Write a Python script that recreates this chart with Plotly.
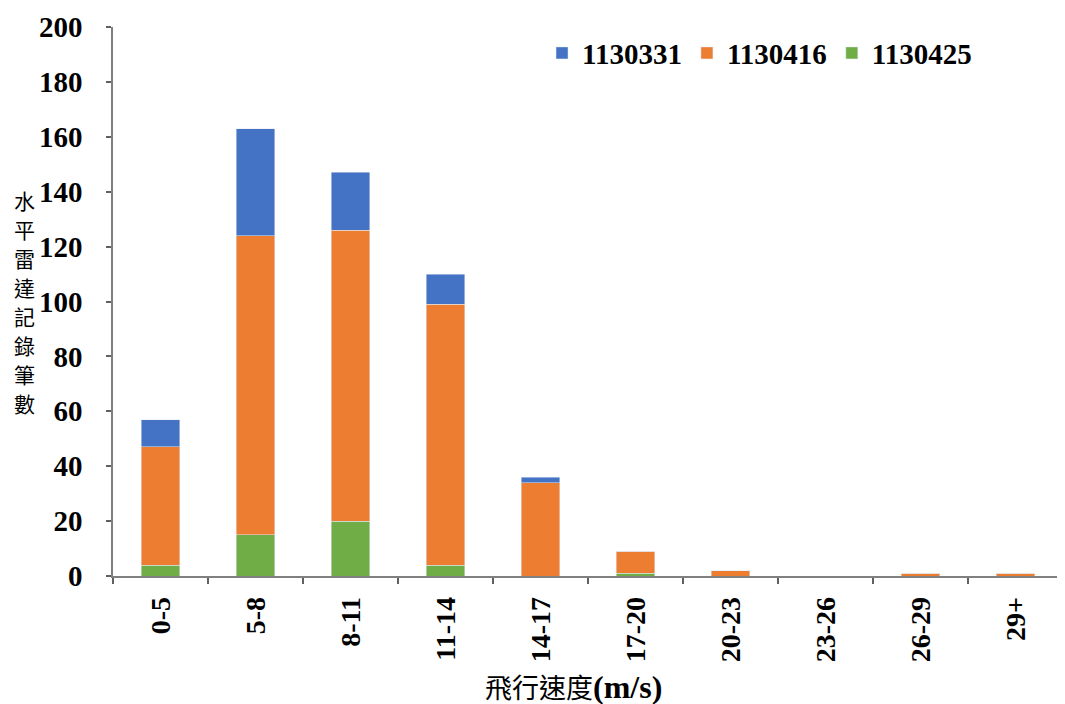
import plotly.graph_objects as go

categories = ["0-5", "5-8", "8-11", "11-14", "14-17", "17-20", "20-23", "23-26", "26-29", "29+"]
s1130425 = [4, 15, 20, 4, 0, 1, 0, 0, 0, 0]
s1130416 = [43, 109, 106, 95, 34, 8, 2, 0, 1, 1]
s1130331 = [10, 39, 21, 11, 2, 0, 0, 0, 0, 0]
y_ticks = list(range(0, 201, 20))
y_title_chars = list("水平雷達記錄筆數")

font_serif = "Liberation Serif, Times New Roman, serif"
font_cjk = "Noto Sans CJK TC"

# page body has an 8px margin, so figure coords = picture coords - 8
OFF = 8
W, H = 1065, 704
ML, MR, MT, MB = 113 - OFF, 10, 27 - OFF, 136
plot_w = W - ML - MR
plot_h = H - MT - MB

fig = go.Figure()
fig.add_trace(go.Bar(x=categories, y=s1130425, name="1130425", marker_color="#70AD47"))
fig.add_trace(go.Bar(x=categories, y=s1130416, name="1130416", marker_color="#ED7D31"))
fig.add_trace(go.Bar(x=categories, y=s1130331, name="1130331", marker_color="#4472C4"))

fig.update_layout(
    width=W, height=H,
    barmode="stack", bargap=0.59,
    plot_bgcolor="white", paper_bgcolor="white",
    margin=dict(l=ML, r=MR, t=MT, b=MB, autoexpand=False),
    font=dict(family=font_serif, size=20, color="black"),
    showlegend=True,
    legend=dict(orientation="h", traceorder="reversed", x=0.4516, xanchor="left", y=0.999, yanchor="top",
                font=dict(family=font_serif, size=29, color="black", weight="bold"),
                itemwidth=30, bgcolor="rgba(0,0,0,0)"),
)
fig.update_xaxes(
    automargin=False,
    showline=True, linecolor="#808080", linewidth=1.5,
    ticks="outside", tickson="boundaries", ticklen=6, tickcolor="#606060", tickwidth=1.5,
    tickangle=-90, tickfont=dict(family=font_serif, size=28, color="black", weight="bold"),
    ticklabelstandoff=8,
    showgrid=False,
)
fig.update_yaxes(
    automargin=False,
    range=[0, 200], tickvals=y_ticks,
    showline=True, linecolor="#808080", linewidth=1.5,
    ticks="outside", ticklen=5, tickcolor="#606060", tickwidth=1.5,
    tickfont=dict(family=font_serif, size=29, color="black", weight="bold"),
    ticklabelstandoff=18,
    showgrid=False, zeroline=False,
)

# vertical y-axis title, one character per annotation
pitch = 29 / plot_h
top_center = 1 - (200 - OFF - MT) / plot_h
for i, ch in enumerate(y_title_chars):
    fig.add_annotation(
        text=ch, xref="paper", yref="paper",
        x=-(ML - (24 - OFF)) / plot_w, y=top_center - i * pitch,
        xanchor="center", yanchor="middle", showarrow=False, borderpad=0,
        font=dict(family=font_cjk, size=21, color="black"),
    )

# x-axis title
fig.add_annotation(
    text="飛行速度<span style=\"font-family:'Liberation Serif'; font-size:32px; font-weight:bold\">(m/s)</span>",
    xref="paper", yref="paper",
    x=(573 - OFF - ML) / plot_w, y=-(686 - OFF - MT - plot_h) / plot_h,
    xanchor="center", yanchor="middle", showarrow=False,
    font=dict(family=font_cjk, size=27, color="black"),
)

fig.write_html("out.html")
